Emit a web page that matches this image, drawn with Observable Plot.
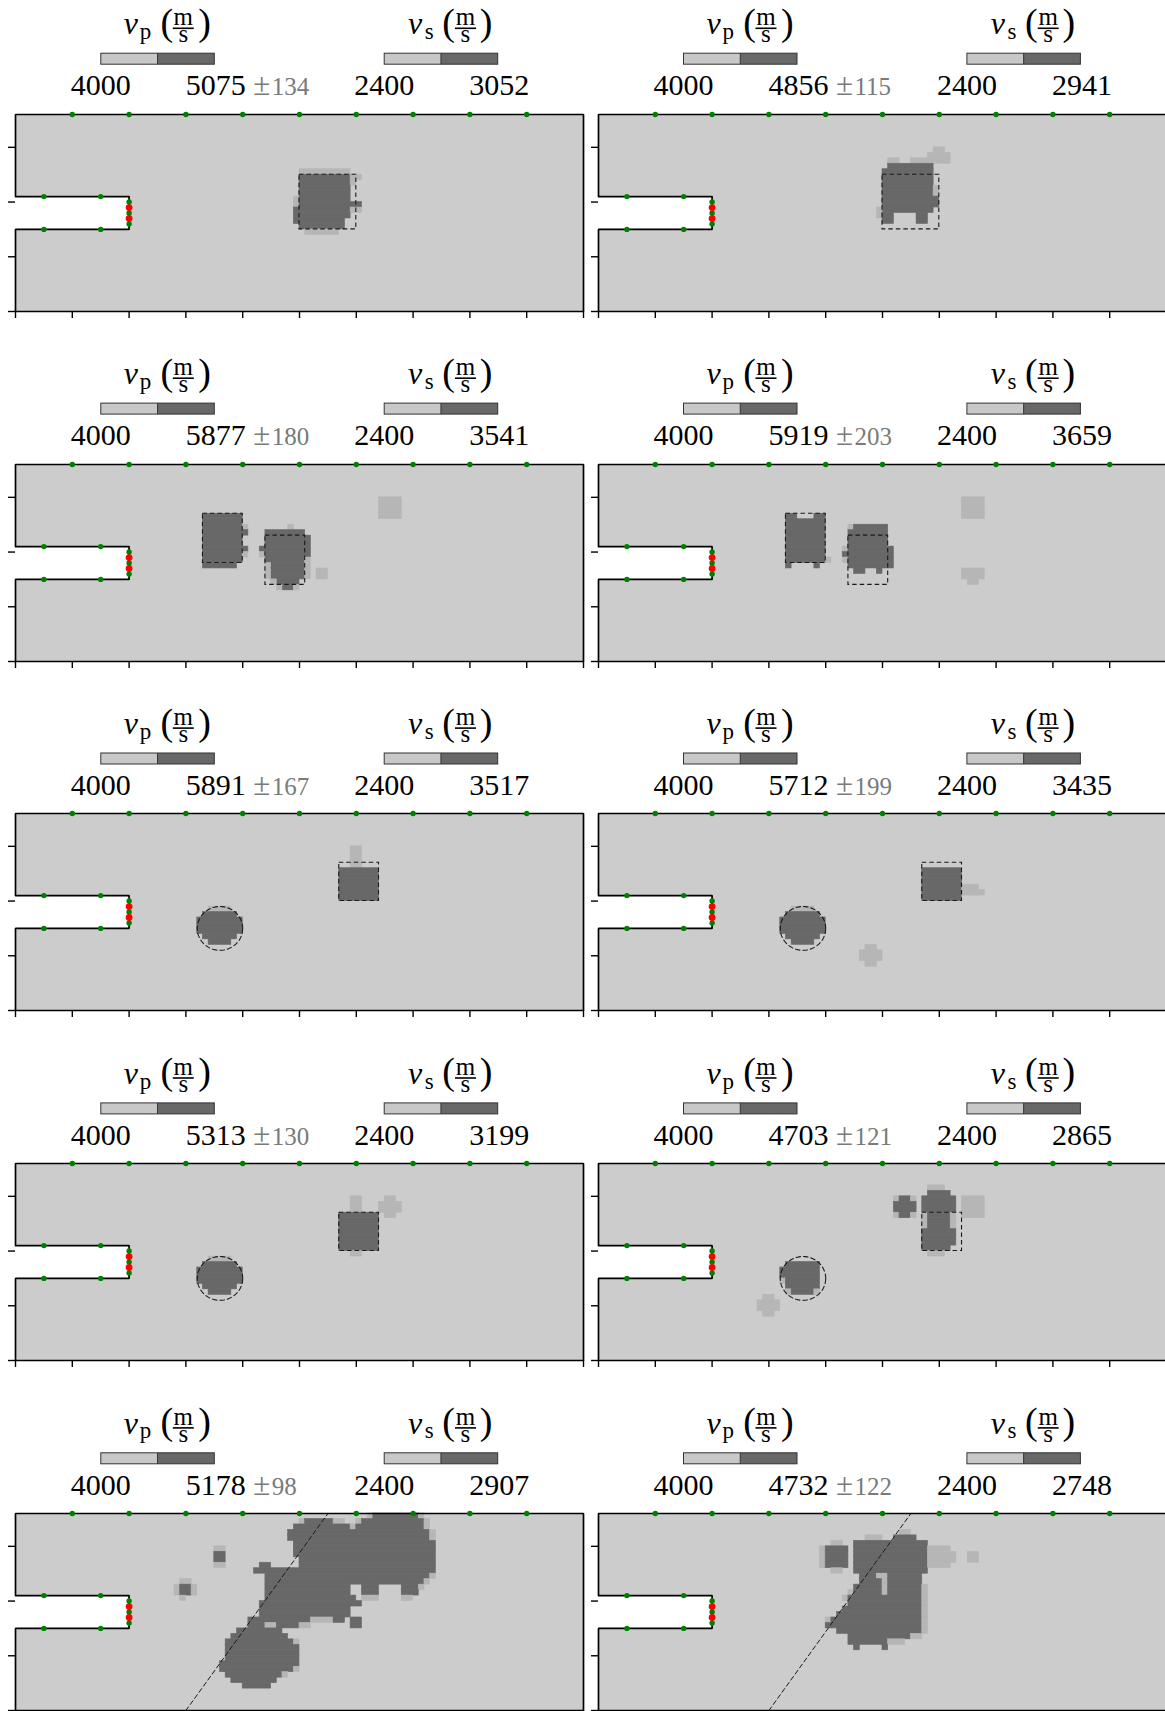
<!DOCTYPE html>
<html><head><meta charset="utf-8">
<script src="https://cdn.jsdelivr.net/npm/d3@7"></script>
<script src="https://cdn.jsdelivr.net/npm/@observablehq/plot@0.6"></script>
<style>
html,body{margin:0;padding:0;background:#fff;}
#fig{position:relative;width:1165px;height:1711px;overflow:hidden;background:#fff;}
#fig svg{position:absolute;}
.ttl{position:absolute;width:0;height:0;font-family:'Liberation Serif','DejaVu Serif',serif;color:#000;}
.ttl span{position:absolute;white-space:pre;display:block;}
</style></head><body><div id="fig"></div>
<script>
// ---------------- values ----------------
const vpMin = 4000, vsMin = 2400;
const vpMax = [5075, 4856, 5877, 5919, 5891, 5712, 5313, 4703, 5178, 4732];
const vpStd = [134, 115, 180, 203, 167, 199, 130, 121, 98, 122];
const vsMax = [3052, 2941, 3541, 3659, 3517, 3435, 3199, 2865, 2907, 2748];

// model grid (cells) and axis ticks
const gridCols = 100, gridRows = 36;
const xTicks = [0, 10, 20, 30, 40, 50, 60, 70, 80, 90, 100];
const yTicks = [0, 10, 20, 30];
// slot (notch) cut into the left side
const slot = {x0: 0, x1: 20, y0: 15, y1: 21};
// receivers (green) and sources (red)
const topReceiversX = [10, 20, 30, 40, 50, 60, 70, 80, 90];
const slotReceivers = [[5, 21], [15, 21], [5, 15], [15, 15], [20, 20], [20, 18], [20, 16]];
const sources = [[20, 19], [20, 17]];

// true defects (dashed): rects [x0,x1,y0,y1], circles [cx,cy,r], lines [[x,y],[x,y]]
const truthSquare = {rects: [[50, 60, 15, 25]]};
const truthTwoRects = {rects: [[33, 40, 18, 27], [44, 51, 14, 23]]};
const truthCircleRect = {rects: [[57, 64, 20, 27]], circles: [[36, 15, 4]]};
const truthCrack = {lines: [[[30, 0], [55, 36]]]};

// reconstructed cells: [row from top, first col, end col (excl.), level]  level 2 = high vp, 1 = intermediate
const cells1 = [
 [10,50,59,1],
 [11,50,59,2],[11,59,61,1],[12,50,59,2],[12,59,60,1],[13,50,59,2],[14,50,59,2],
 [15,49,50,1],[15,50,59,2],[16,49,50,1],[16,50,61,2],
 [17,49,59,2],[17,59,61,1],[18,49,59,2],[19,49,58,2],[20,50,58,2],
 [21,51,57,1]
];
const cells2 = [
 [6,59,61,1],[7,58,62,1],[8,51,53,1],[8,55,62,1],
 [9,51,59,2],[10,50,59,2],[11,50,59,2],[12,50,59,2],
 [13,50,59,2],[13,59,60,1],[14,50,59,2],[14,59,60,1],
 [15,50,60,2],[16,50,60,2],[17,50,59,2],[17,49,50,1],[18,49,50,1],
 [18,50,52,2],[18,56,58,2],[19,50,52,2],[19,56,58,2]
];
const cells3 = [
 [9,33,40,2],[10,33,40,2],[11,33,40,2],[11,40,41,1],[12,33,41,2],[13,33,40,2],[14,33,40,2],
 [15,33,41,2],[16,33,40,2],[16,40,41,1],[17,33,40,2],[18,33,39,2],
 [11,48,49,1],[12,44,51,2],[13,44,52,2],[14,44,52,2],[15,43,52,2],[16,44,52,2],[16,43,44,1],
 [17,44,51,2],[17,51,52,1],
 [18,45,51,2],[18,44,45,1],[18,51,52,1],[19,45,51,2],[19,44,45,1],[19,51,52,1],
 [20,45,51,2],[20,44,45,1],[20,51,52,1],[21,46,50,2],[21,45,46,1],
 [22,47,49,2],[22,46,47,1],[22,49,50,1],
 [19,53,55,1],[20,53,55,1],
 [6,64,68,1],[7,64,68,1],[8,64,68,1],[9,64,68,1]
];
const cells4 = [
 [9,33,35,2],[9,38,40,2],[10,33,40,2],[11,33,40,2],[12,33,40,2],[13,33,40,2],[14,33,40,2],
 [15,33,40,2],[16,33,40,2],[17,33,40,2],[17,40,41,1],[18,33,34,2],[18,38,39,2],
 [11,44,45,1],[11,45,51,2],[12,44,51,2],[13,44,51,2],[14,44,51,2],
 [15,43,44,1],[15,44,52,2],[16,43,52,2],[17,43,44,1],[17,44,52,2],[18,44,52,2],
 [19,45,47,2],[19,49,50,2],
 [6,64,68,1],[7,64,68,1],[8,64,68,1],[9,64,68,1],
 [19,64,68,1],[20,64,68,1],[21,65,67,1]
];
const cells5 = [
 [17,34,38,1],[18,33,39,2],[19,32,40,2],[20,32,40,2],[21,32,40,2],[22,33,39,2],[23,34,38,2],
 [6,59,61,1],[7,59,61,1],[8,59,61,1],[9,59,61,1],
 [10,57,64,2],[11,57,64,2],[12,57,64,2],[13,57,64,2],[14,57,64,2],[15,57,64,2]
];
const cells6 = [
 [17,34,38,1],[18,33,39,2],[19,32,40,2],[20,32,40,2],[21,32,40,2],[22,33,39,2],[23,34,38,2],
 [10,57,64,2],[11,57,64,2],[12,57,64,2],[13,57,64,2],[14,57,64,2],[15,57,64,2],
 [13,64,67,1],[14,64,68,1],
 [24,47,49,1],[25,46,50,1],[26,46,50,1],[27,47,49,1]
];
const cells7 = [
 [17,34,38,1],[18,33,39,2],[19,32,40,2],[20,32,40,2],[21,32,40,2],[22,33,39,2],[23,34,38,2],
 [6,59,61,1],[7,59,61,1],[8,59,61,1],
 [9,57,64,2],[10,57,64,2],[11,57,64,2],[12,57,64,2],[13,57,64,2],[14,57,64,2],[15,57,64,2],
 [16,59,61,1],
 [6,65,67,1],[7,64,68,1],[8,64,68,1],[9,65,67,1]
];
const cells8 = [
 [18,33,39,2],[19,32,39,2],[20,32,39,2],[21,32,33,1],[21,33,39,2],[22,33,39,2],
 [23,33,34,1],[23,34,38,2],[23,38,39,1],
 [24,29,31,1],[25,28,32,1],[26,28,32,1],[27,29,31,1],
 [6,52,53,1],[6,53,55,2],[6,55,56,1],[7,52,56,2],[8,52,56,2],[9,52,53,1],[9,53,55,2],[9,55,56,1],
 [4,58,61,1],[5,58,62,2],[6,57,63,2],[7,57,63,2],[8,57,63,2],
 [9,57,58,1],[9,58,62,2],[9,62,63,1],[10,57,58,1],[10,58,62,2],[10,62,63,1],
 [11,57,58,1],[11,58,62,2],[11,62,63,1],
 [12,57,63,2],[13,57,63,2],[14,57,63,2],[15,57,62,2],[16,58,61,1],
 [6,64,68,1],[7,64,68,1],[8,64,68,1],[9,64,68,1]
];
const cells9 = [
 [0,62,63,1],[0,63,71,2],[0,71,72,1],
 [1,50,51,1],[1,51,56,2],[1,56,58,1],[1,60,61,1],[1,61,72,2],[1,72,73,1],
 [2,49,59,2],[2,59,60,1],[2,60,72,2],[2,72,73,1],
 [3,48,73,2],[3,73,74,1],[4,48,73,2],[4,73,74,1],
 [5,49,74,2],[6,49,74,2],[7,49,74,2],[8,50,74,2],
 [9,43,45,2],[9,50,74,2],[10,42,74,2],[11,44,73,2],[11,73,74,1],[12,44,72,2],[12,72,73,1],
 [13,44,59,2],[13,61,64,2],[13,68,71,2],[13,71,72,1],
 [14,44,59,2],[14,61,64,2],[14,68,71,2],
 [15,44,60,2],[15,61,64,1],[15,68,70,1],
 [16,43,61,2],[17,43,59,2],[18,43,59,2],
 [19,41,52,2],[19,52,56,1],[19,56,58,2],[19,59,61,2],
 [20,41,44,2],[20,44,46,1],[20,46,50,2],[20,50,52,1],[20,59,61,2],
 [21,39,47,2],[22,38,48,2],[23,37,49,2],[23,49,50,1],
 [24,37,50,2],[25,37,50,2],[26,37,50,2],[27,36,50,2],[28,36,49,2],[28,49,50,1],
 [29,37,47,2],[29,47,48,1],[30,38,46,2],[31,40,45,2],
 [12,29,31,1],[13,28,29,1],[13,29,31,2],[13,31,32,1],[14,28,29,1],[14,29,31,2],[14,31,32,1],[15,29,30,1],
 [6,35,37,1],[7,35,37,2],[8,35,37,2],[9,35,37,1]
];
const cells10 = [
 [3,53,55,1],
 [4,47,50,1],[4,52,56,2],
 [5,41,43,1],[5,45,58,2],
 [6,39,40,1],[6,40,44,2],[6,45,58,2],[6,58,62,1],
 [7,39,40,1],[7,40,44,2],[7,45,58,2],[7,58,63,1],[7,65,67,1],
 [8,39,40,1],[8,40,44,2],[8,45,58,2],[8,58,63,1],[8,65,67,1],
 [9,39,40,1],[9,40,44,2],[9,45,58,2],[9,58,62,1],
 [10,41,43,1],[10,45,58,2],
 [11,46,49,2],[11,49,51,1],[11,51,57,2],
 [12,46,50,2],[12,50,51,1],[12,51,57,2],
 [13,45,50,2],[13,50,51,1],[13,51,57,2],[13,57,58,1],
 [14,44,45,1],[14,45,50,2],[14,50,51,1],[14,51,57,2],[14,57,58,1],
 [15,43,44,1],[15,44,57,2],[15,57,58,1],
 [16,44,57,2],[16,57,58,1],
 [17,43,57,2],[17,57,58,1],
 [18,42,57,2],[18,57,58,1],
 [19,40,41,1],[19,41,57,2],[19,57,58,1],
 [20,40,57,2],[20,57,58,1],
 [21,42,57,2],[21,57,58,1],
 [22,44,55,2],[22,55,57,1],
 [23,44,51,2],[23,51,54,1],
 [24,45,46,2],[24,50,51,2]
];

const panelCells = [cells1, cells2, cells3, cells4, cells5, cells6, cells7, cells8, cells9, cells10];
const panelTruth = [truthSquare, truthSquare, truthTwoRects, truthTwoRects,
  truthCircleRect, truthCircleRect, truthCircleRect, truthCircleRect, truthCrack, truthCrack];

// ---------------- styling / layout ----------------
const bgC = "#cccccc", darkC = "#686868", midC = "#b6b6b6";
const shade = {1: midC, 2: darkC};
const colX = [15.3, 598];
const rowTop = k => 113.6 + 349.9 * k;
const W = 568, H = 197, mL = 12, mR = 4, mT = 4, mB = 12;
const FONT = "'Liberation Serif','DejaVu Serif',serif";
const dash = {stroke: "#1a1a1a", strokeWidth: 1.1, strokeDasharray: "4.5,3"};

const fig = document.getElementById("fig");

function circlePoints([cx, cy, rad]) {
  const pts = [];
  for (let a = 0; a <= 360; a += 4) pts.push([cx + rad * Math.cos(a * Math.PI / 180), cy + rad * Math.sin(a * Math.PI / 180)]);
  return pts;
}

const domainBox = [{x1: 0, x2: gridCols, y1: 0, y2: gridRows}];
const outline = [[slot.x0, slot.y1], [slot.x1, slot.y1], [slot.x1, slot.y0], [slot.x0, slot.y0],
  [0, 0], [gridCols, 0], [gridCols, gridRows], [0, gridRows], [0, slot.y1]];
const receivers = topReceiversX.map(x => [x, gridRows]).concat(slotReceivers);

panelCells.forEach((cells, k) => {
  const fx = colX[k % 2], fy = rowTop(Math.floor(k / 2));
  const truth = panelTruth[k];
  const marks = [
    Plot.rect(domainBox, {x1: "x1", x2: "x2", y1: "y1", y2: "y2", fill: bgC}),
    Plot.rect(cells, {x1: d => d[1], x2: d => d[2], y1: d => gridRows - 1 - d[0], y2: d => gridRows - d[0],
      fill: d => shade[d[3]], stroke: d => shade[d[3]], strokeWidth: 0.6}),
    Plot.rect([slot], {x1: "x0", x2: "x1", y1: "y0", y2: "y1", fill: "white"})
  ];
  if (truth.rects) marks.push(Plot.rect(truth.rects, {x1: d => d[0], x2: d => d[1], y1: d => d[2], y2: d => d[3], fill: "none", ...dash}));
  if (truth.circles) truth.circles.forEach(c => marks.push(Plot.line(circlePoints(c), {...dash})));
  if (truth.lines) truth.lines.forEach(l => marks.push(Plot.line(l, {...dash, strokeWidth: 1})));
  marks.push(
    Plot.line(outline, {stroke: "black", strokeWidth: 1.7, strokeLinejoin: "miter"}),
    Plot.dot(receivers, {x: d => d[0], y: d => d[1], r: 2.7, fill: "#008000"}),
    Plot.dot(sources, {x: d => d[0], y: d => d[1], r: 3.4, fill: "#ff0000"}),
    Plot.axisX({anchor: "bottom", ticks: xTicks, tickSize: 7, tickFormat: () => "", strokeWidth: 1.4}),
    Plot.axisY({anchor: "left", ticks: yTicks, tickSize: 7, tickFormat: () => "", strokeWidth: 1.4})
  );
  const svg = Plot.plot({
    width: W + mL + mR, height: H + mT + mB,
    marginLeft: mL, marginRight: mR, marginTop: mT, marginBottom: mB,
    x: {domain: [0, gridCols]}, y: {domain: [0, gridRows]},
    style: {background: "transparent", overflow: "visible"},
    marks
  });
  svg.style.left = (fx - mL) + "px";
  svg.style.top = (fy - mT) + "px";
  fig.appendChild(svg);
});

// ---------------- legends (colour bars + labels) ----------------
const leg = d3.select(fig).append("svg").attr("width", 1165).attr("height", 1711)
  .style("left", "0px").style("top", "0px").style("pointer-events", "none")
  .attr("font-family", FONT);
const cbW = 113.5, cbH = 11;

// HTML span placed by its baseline (Liberation Serif metrics)
function span(parent, str, x, baseline, size, extra) {
  const s = document.createElement("span");
  s.textContent = str;
  s.style.left = x + "px";
  s.style.top = (baseline - 0.8375 * size) + "px";
  s.style.fontSize = size + "px";
  s.style.lineHeight = size + "px";
  if (extra) Object.assign(s.style, extra);
  parent.appendChild(s);
  return s;
}

// title: v_sub ( m / s )
function title(G, box, xV, sub, xSub, xOpen, xFrac, xClose) {
  span(box, "v", xV, -79.5, 32, {fontStyle: "italic"});
  span(box, sub, xSub, -74.5, 23);
  span(box, "(", xOpen, -79, 38);
  const fr = document.createElement("span");
  fr.textContent = "m\ns";
  Object.assign(fr.style, {left: (xFrac - 9.8) + "px", top: (-88.5 - 16.94) + "px", width: "19.6px",
    fontSize: "25px", lineHeight: "17px", textAlign: "center"});
  box.appendChild(fr);
  span(box, ")", xClose, -79, 38);
  G.append("line").attr("x1", xFrac - 10.5).attr("x2", xFrac + 10.5).attr("y1", -85.3).attr("y2", -85.3)
    .attr("stroke", "black").attr("stroke-width", 1.6);
}

panelCells.forEach((_, k) => {
  const fx = colX[k % 2], fy = rowTop(Math.floor(k / 2));
  const G = leg.append("g").attr("transform", `translate(${fx},${fy})`);
  [[85.5, vpMin, vpMax[k]], [368.9, vsMin, vsMax[k]]].forEach(([x0, lo, hi]) => {
    G.append("rect").attr("x", x0).attr("y", -60.4).attr("width", cbW / 2).attr("height", cbH).attr("fill", "#c8c8c8");
    G.append("rect").attr("x", x0 + cbW / 2).attr("y", -60.4).attr("width", cbW / 2).attr("height", cbH).attr("fill", darkC);
    G.append("rect").attr("x", x0).attr("y", -60.4).attr("width", cbW).attr("height", cbH)
      .attr("fill", "none").attr("stroke", "#333").attr("stroke-width", 1);
    G.append("line").attr("x1", x0 + cbW / 2).attr("x2", x0 + cbW / 2).attr("y1", -60.4).attr("y2", -60.4 + cbH)
      .attr("stroke", "#333").attr("stroke-width", 1);
    G.append("text").attr("x", x0).attr("y", -18.7).attr("font-size", 30).attr("text-anchor", "middle").text(lo);
    G.append("text").attr("x", x0 + cbW + 1.5).attr("y", -18.7).attr("font-size", 30).attr("text-anchor", "middle").text(hi);
  });
  const pm = G.append("text").attr("x", 238).attr("y", -18.7).attr("fill", "#7a7a7a");
  pm.append("tspan").attr("font-size", 31).text("\u00b1");
  pm.append("tspan").attr("font-size", 25).attr("dx", 1.5).text(vpStd[k]);

  const box = document.createElement("div");
  box.className = "ttl";
  box.style.left = fx + "px";
  box.style.top = fy + "px";
  fig.appendChild(box);
  title(G, box, 108.5, "p", 124.5, 145.3, 168, 183);
  title(G, box, 392.7, "s", 409.5, 427, 450.2, 464.5);
});
</script></body></html>
